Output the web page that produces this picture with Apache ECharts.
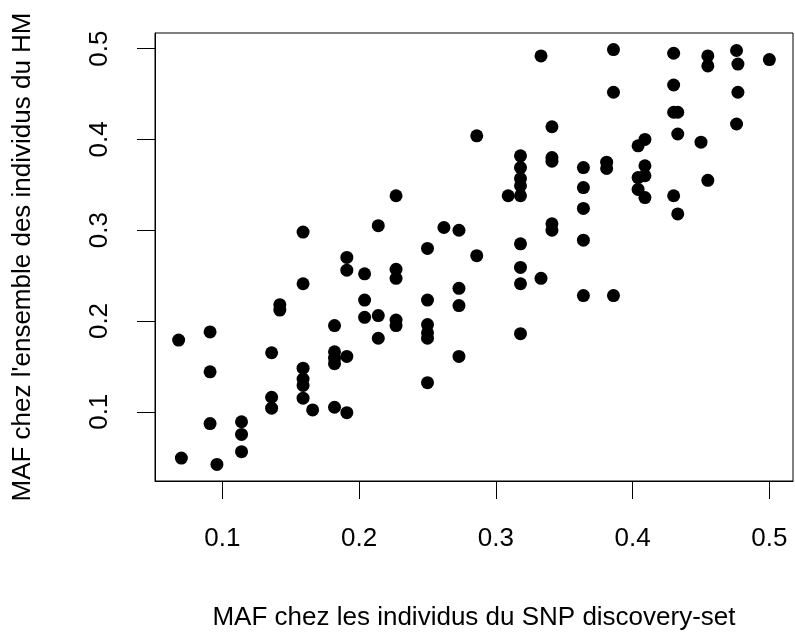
<!DOCTYPE html>
<html>
<head>
<meta charset="utf-8">
<script src="https://cdn.jsdelivr.net/npm/echarts@6/dist/echarts.min.js"></script>
<style>
  html, body { margin: 0; padding: 0; background: #fff; }
  #chart { width: 795px; height: 638px; }
</style>
</head>
<body>
<div id="chart"></div>
<script>
// Minor allele frequency in the SNP discovery set (x) vs. in all HM individuals (y)
const snpMaf = [
  0.068, 0.070,
  0.091, 0.091, 0.091, 0.096,
  0.114, 0.114, 0.114,
  0.136, 0.136, 0.136, 0.142, 0.142,
  0.159, 0.159, 0.159, 0.159, 0.159, 0.159, 0.166,
  0.182, 0.182, 0.182, 0.182, 0.182,
  0.191, 0.191, 0.191, 0.191,
  0.204, 0.204, 0.204,
  0.214, 0.214, 0.214,
  0.227, 0.227, 0.227, 0.227, 0.227,
  0.250, 0.250, 0.250, 0.250, 0.250, 0.250,
  0.262,
  0.273, 0.273, 0.273, 0.273,
  0.286, 0.286,
  0.309,
  0.318, 0.318, 0.318, 0.318, 0.318, 0.318, 0.318, 0.318, 0.318,
  0.333, 0.333,
  0.341, 0.341, 0.341, 0.341, 0.341,
  0.364, 0.364, 0.364, 0.364, 0.364,
  0.381, 0.381,
  0.386, 0.386, 0.386,
  0.404, 0.404, 0.404,
  0.409, 0.409, 0.409, 0.409,
  0.430, 0.430, 0.430, 0.430,
  0.433, 0.433, 0.433,
  0.450,
  0.455, 0.455, 0.455,
  0.476, 0.476,
  0.477, 0.477,
  0.500
];
const hmMaf = [
  0.179, 0.049,
  0.188, 0.144, 0.087, 0.042,
  0.089, 0.075, 0.056,
  0.165, 0.116, 0.104, 0.218, 0.212,
  0.298, 0.241, 0.148, 0.136, 0.129, 0.115, 0.102,
  0.195, 0.166, 0.159, 0.153, 0.105,
  0.270, 0.256, 0.161, 0.099,
  0.252, 0.223, 0.204,
  0.305, 0.206, 0.181,
  0.338, 0.257, 0.247, 0.201, 0.195,
  0.280, 0.223, 0.196, 0.187, 0.181, 0.132,
  0.303,
  0.300, 0.236, 0.217, 0.161,
  0.404, 0.272,
  0.338,
  0.382, 0.369, 0.357, 0.349, 0.338, 0.285, 0.259, 0.241, 0.186,
  0.492, 0.247,
  0.414, 0.380, 0.376, 0.307, 0.300,
  0.369, 0.347, 0.324, 0.289, 0.228,
  0.375, 0.368,
  0.499, 0.452, 0.228,
  0.393, 0.358, 0.345,
  0.400, 0.371, 0.360, 0.336,
  0.495, 0.460, 0.430, 0.338,
  0.430, 0.406, 0.318,
  0.397,
  0.492, 0.481, 0.355,
  0.498, 0.417,
  0.483, 0.452,
  0.488
];

const xTicks = [0.1, 0.2, 0.3, 0.4, 0.5];
const yTicks = [0.1, 0.2, 0.3, 0.4, 0.5];
const xTitle = 'MAF chez les individus du SNP discovery-set';
const yTitle = "MAF chez l'ensemble des individus du HM";

// axis ranges padded by 4% of the data span on each side
function paddedRange(values) {
  const lo = Math.min(...values), hi = Math.max(...values);
  const pad = (hi - lo) * 0.04;
  return [lo - pad, hi + pad];
}
const xRange = paddedRange(snpMaf);
const yRange = paddedRange(hmMaf);

const points = snpMaf.map((x, i) => [x, hmMaf[i]]);

const FONT = '"Liberation Sans", Arial, sans-serif';
const labelStyle = { fontFamily: FONT, fontSize: 26, color: '#000' };

const chart = echarts.init(document.getElementById('chart'), null, { renderer: 'canvas' });
chart.setOption({
  animation: false,
  backgroundColor: '#fff',
  grid: {
    left: 155, right: 2, top: 33, bottom: 157,
    show: true, borderColor: '#000', borderWidth: 1,
    containLabel: false, outerBoundsMode: 'none'
  },
  xAxis: {
    type: 'value',
    min: xRange[0], max: xRange[1],
    splitLine: { show: false },
    axisLine: { show: true, onZero: false, lineStyle: { color: '#000', width: 1 } },
    axisTick: { show: true, length: 18, lineStyle: { color: '#000' }, customValues: xTicks },
    axisLabel: { customValues: xTicks, margin: 45, formatter: v => String(+v.toFixed(1)), ...labelStyle },
    name: xTitle,
    nameLocation: 'middle',
    nameGap: 124,
    nameTextStyle: { ...labelStyle }
  },
  yAxis: {
    type: 'value',
    min: yRange[0], max: yRange[1],
    splitLine: { show: false },
    axisLine: { show: true, onZero: false, lineStyle: { color: '#000', width: 1 } },
    axisTick: { show: true, length: 18, lineStyle: { color: '#000' }, customValues: yTicks },
    axisLabel: { customValues: yTicks, rotate: 90, margin: 42, formatter: v => String(+v.toFixed(1)), ...labelStyle },
    name: yTitle,
    nameLocation: 'middle',
    nameRotate: 90,
    nameGap: 119,
    nameTextStyle: { ...labelStyle }
  },
  series: [{
    type: 'scatter',
    data: points,
    symbol: 'circle',
    symbolSize: 13,
    itemStyle: { color: '#000', opacity: 1 },
    emphasis: { disabled: true }
  }]
});
</script>
</body>
</html>
